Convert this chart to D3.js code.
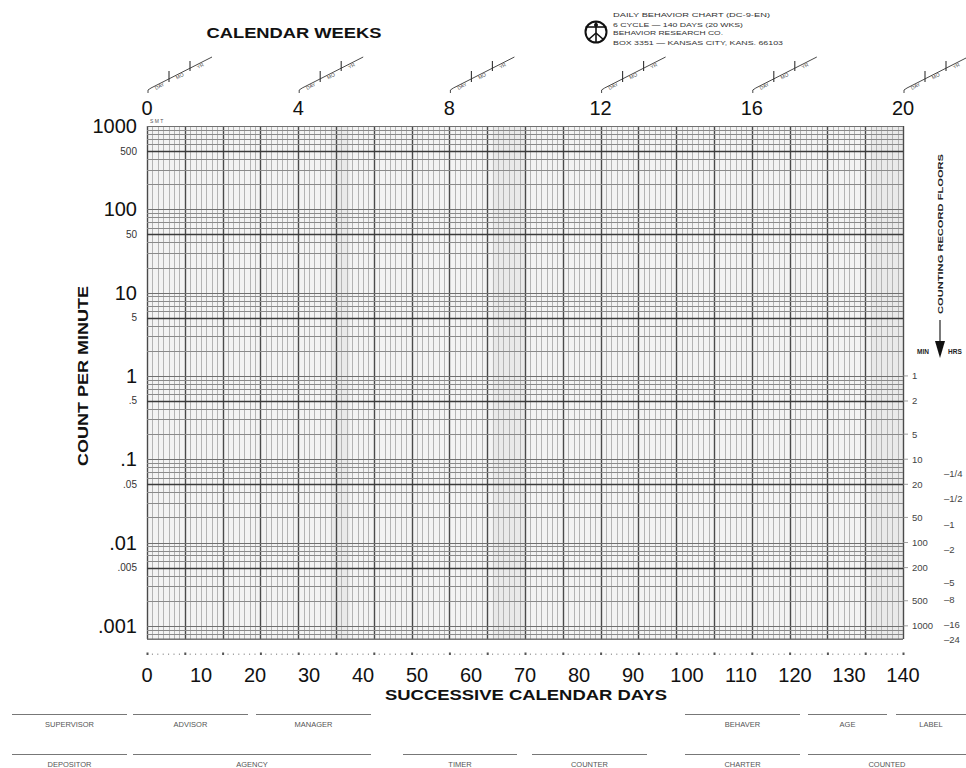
<!DOCTYPE html>
<html><head><meta charset="utf-8">
<script src="https://cdn.jsdelivr.net/npm/d3@7/dist/d3.min.js"></script>
<style>
html,body{margin:0;padding:0;background:#fff;}
svg{display:block;font-family:"Liberation Sans",Arial,Helvetica,sans-serif;}
</style></head>
<body><svg id="c" width="966" height="768"></svg>
<script>
// ---- data ----
const dayTicks = [0,10,20,30,40,50,60,70,80,90,100,110,120,130,140];
const weekTicks = [0,4,8,12,16,20];
const countTicks = [1000,100,10,1,0.1,0.01,0.001];
const countTickLabels = ["1000","100","10","1",".1",".01",".001"];
const halfTicks = [500,50,5,0.5,0.05,0.005];
const halfTickLabels = ["500","50","5",".5",".05",".005"];
const minuteFloors = [1,2,5,10,20,50,100,200,500,1000];
const hourFloorLabels = ["1/4","1/2","1","2","5","8","16","24"];
const hourFloorMinutes = [15,30,60,120,300,480,960,1440];
const footerRow1 = ["SUPERVISOR","ADVISOR","MANAGER","BEHAVER","AGE","LABEL"];
const footerRow1Span = [[12,127],[133,248],[256,371],[685,800],[808,887],[896,966]];
const footerRow2 = ["DEPOSITOR","AGENCY","TIMER","COUNTER","CHARTER","COUNTED"];
const footerRow2Span = [[12,127],[133,371],[403,517],[532,647],[685,800],[808,966]];
const publisherLines = ["DAILY BEHAVIOR CHART (DC-9-EN)","6 CYCLE \u2014 140 DAYS (20 WKS)","BEHAVIOR RESEARCH CO.","BOX 3351 \u2014 KANSAS CITY, KANS. 66103"];
const shadeDays = [[34,37.5],[64,70],[134,140]];

// ---- scales ----
const svg = d3.select("#c");
const x = d3.scaleLinear().domain([0,140]).range([147,903]);
const y = d3.scaleLog().domain([0.000695,1000]).range([639,126]);
const X0 = x(0), X1 = x(140), Y0 = y(1000), Y1 = y(0.000695);

// grid background
svg.append("rect").attr("x",X0).attr("y",Y0).attr("width",X1-X0).attr("height",Y1-Y0).attr("fill","#f3f3f3");
svg.append("g").selectAll("rect").data(shadeDays).join("rect")
  .attr("x",d=>x(d[0])).attr("width",d=>x(d[1])-x(d[0])).attr("y",Y0).attr("height",Y1-Y0)
  .attr("fill","#d8d8d8").attr("opacity",0.35);

// vertical day lines
const days = d3.range(0,141);
svg.append("g").selectAll("line").data(days).join("line")
  .attr("x1",d=>Math.round(x(d))+0.5).attr("x2",d=>Math.round(x(d))+0.5).attr("y1",Y0).attr("y2",Y1)
  .attr("stroke",d=>d%7===0?"#4a4a4a":"#b4b4b4")
  .attr("stroke-width",d=>d%7===0?1.4:1);

// horizontal count lines
const hticks = y.ticks().filter(v=>v>=0.0007-1e-9 && v<=1000+1e-9);
function lead(v){const e=Math.floor(Math.log10(v)+1e-9);return Math.round(v/Math.pow(10,e));}
svg.append("g").selectAll("line").data(hticks).join("line")
  .attr("x1",X0).attr("x2",X1)
  .attr("y1",d=>Math.round(y(d))+0.5).attr("y2",d=>Math.round(y(d))+0.5)
  .attr("stroke",d=>{const m=lead(d);return m===5?"#3a3a3a":(m===1?"#707070":"#8a8a8a");})
  .attr("stroke-width",d=>{const m=lead(d);return m===5?1.7:(m===1?1.2:1);});
// bottom edge
svg.append("line").attr("x1",X0).attr("x2",X1).attr("y1",Y1).attr("y2",Y1).attr("stroke","#666").attr("stroke-width",1);

// left labels
svg.append("g").selectAll("text").data(countTicks).join("text")
  .attr("x",137).attr("y",d=>y(d)+7).attr("text-anchor","end")
  .attr("font-size",20).attr("fill","#111").text((d,i)=>countTickLabels[i]);
svg.append("g").selectAll("text").data(halfTicks).join("text")
  .attr("x",137).attr("y",d=>y(d)+3.5).attr("text-anchor","end")
  .attr("font-size",10).attr("fill","#333").text((d,i)=>halfTickLabels[i]);

svg.append("text").attr("transform",`translate(88,${y(1)}) rotate(-90)`)
  .attr("text-anchor","middle").attr("font-size",15).attr("font-weight","bold")
  .attr("fill","#111").attr("textLength",180).attr("lengthAdjust","spacingAndGlyphs")
  .text("COUNT PER MINUTE");

// bottom day marker row
svg.append("g").selectAll("rect").data(days).join("rect")
  .attr("x",d=>x(d)-0.5).attr("y",d=>d%7===0?652.5:653.5)
  .attr("width",d=>d%7===0?2:1).attr("height",d=>d%7===0?2.5:1.5)
  .attr("fill",d=>d%7===0?"#555":"#999");

// bottom labels
svg.append("g").selectAll("text").data(dayTicks).join("text")
  .attr("x",d=>x(d)).attr("y",682).attr("text-anchor","middle")
  .attr("font-size",20).attr("fill","#111").text(d=>d);
svg.append("text").attr("x",526).attr("y",700).attr("text-anchor","middle")
  .attr("font-size",15).attr("font-weight","bold").attr("fill","#111")
  .attr("textLength",282).attr("lengthAdjust","spacingAndGlyphs")
  .text("SUCCESSIVE CALENDAR DAYS");

// top week labels
svg.append("g").selectAll("text").data(weekTicks).join("text")
  .attr("x",d=>x(d*7)).attr("y",115).attr("text-anchor","middle")
  .attr("font-size",20).attr("fill","#111").text(d=>d);
svg.append("text").attr("x",294).attr("y",38).attr("text-anchor","middle")
  .attr("font-size",15).attr("font-weight","bold").attr("fill","#111")
  .attr("textLength",175).attr("lengthAdjust","spacingAndGlyphs")
  .text("CALENDAR WEEKS");

// slanted date slots above week labels
const slant = svg.append("g").selectAll("g").data(weekTicks).join("g")
  .attr("transform",d=>`translate(${x(d*7)+1},93)`);
slant.append("path").attr("d","M0,0 L0,-3 L3,-5 L64,-36").attr("fill","none").attr("stroke","#333").attr("stroke-width",0.9);
slant.append("line").attr("x1",21).attr("x2",21).attr("y1",-22).attr("y2",-11).attr("stroke","#333").attr("stroke-width",1.1);
slant.append("line").attr("x1",42).attr("x2",42).attr("y1",-32).attr("y2",-22).attr("stroke","#333").attr("stroke-width",1.1);
["DAY","MO","YR"].forEach((t,i)=>{
  slant.append("text").attr("transform",`translate(${8+i*21},${-3-i*10.5}) rotate(-28)`)
    .attr("font-size",5).attr("fill","#444").text(t);
});

// tiny weekday letters near top-left
svg.append("text").attr("x",150).attr("y",123).attr("font-size",5).attr("fill","#555").text("S  M  T");

// publisher block
const pub = svg.append("g");
pub.append("circle").attr("cx",596).attr("cy",32).attr("r",10.5).attr("fill","none").attr("stroke","#111").attr("stroke-width",2);
pub.append("line").attr("x1",585.5).attr("x2",606.5).attr("y1",27).attr("y2",27).attr("stroke","#111").attr("stroke-width",1.6);
pub.append("line").attr("x1",596).attr("x2",596).attr("y1",22).attr("y2",42).attr("stroke","#111").attr("stroke-width",1.6);
pub.append("path").attr("d","M596,33 L588,40 M596,33 L604,40").attr("stroke","#111").attr("stroke-width",1.6);
pub.append("circle").attr("cx",596).attr("cy",25).attr("r",2).attr("fill","#111");
pub.selectAll("text").data(publisherLines).join("text")
  .attr("x",613).attr("y",(d,i)=>[17,27,35,45][i]).attr("font-size",6.2).attr("fill","#333")
  .attr("textLength",(d,i)=>[157,130,110,170][i]).attr("lengthAdjust","spacingAndGlyphs")
  .text(d=>d);

// right side: counting record floors
svg.append("text").attr("transform",`translate(943,234) rotate(-90)`)
  .attr("text-anchor","middle").attr("font-size",7.5).attr("font-weight","bold").attr("fill","#222")
  .attr("textLength",160).attr("lengthAdjust","spacingAndGlyphs")
  .text("COUNTING RECORD FLOORS");
svg.append("line").attr("x1",940).attr("x2",940).attr("y1",320).attr("y2",342).attr("stroke","#222").attr("stroke-width",1.2);
svg.append("path").attr("d","M935,341 L945,341 L940,358 Z").attr("fill","#111");
svg.append("text").attr("x",917).attr("y",354).attr("font-size",6.5).attr("font-weight","bold").attr("fill","#222").text("MIN");
svg.append("text").attr("x",948).attr("y",354).attr("font-size",6.5).attr("font-weight","bold").attr("fill","#222").text("HRS");

svg.append("g").selectAll("text").data(minuteFloors).join("text")
  .attr("x",912).attr("y",d=>y(1/d)+3.5).attr("font-size",9.5).attr("fill","#444").text(d=>d);
svg.append("g").selectAll("line").data(minuteFloors).join("line")
  .attr("x1",X1).attr("x2",X1+5).attr("y1",d=>y(1/d)).attr("y2",d=>y(1/d)).attr("stroke","#888").attr("stroke-width",0.8);
svg.append("g").selectAll("text").data(hourFloorMinutes).join("text")
  .attr("x",944).attr("y",d=>y(1/d)+3.5).attr("font-size",9.5).attr("fill","#444")
  .text((d,i)=>"\u2013"+hourFloorLabels[i]);

// footer
function footer(names,spans,ly){
  const g=svg.append("g");
  g.selectAll("line").data(spans).join("line")
    .attr("x1",d=>d[0]).attr("x2",d=>d[1]).attr("y1",ly).attr("y2",ly).attr("stroke","#777").attr("stroke-width",1);
  g.selectAll("text").data(names).join("text")
    .attr("x",(d,i)=>(spans[i][0]+spans[i][1])/2).attr("y",ly+12).attr("text-anchor","middle")
    .attr("font-size",7.5).attr("fill","#555").text(d=>d);
}
footer(footerRow1,footerRow1Span,714.5);
footer(footerRow2,footerRow2Span,754.5);
</script></body></html>
